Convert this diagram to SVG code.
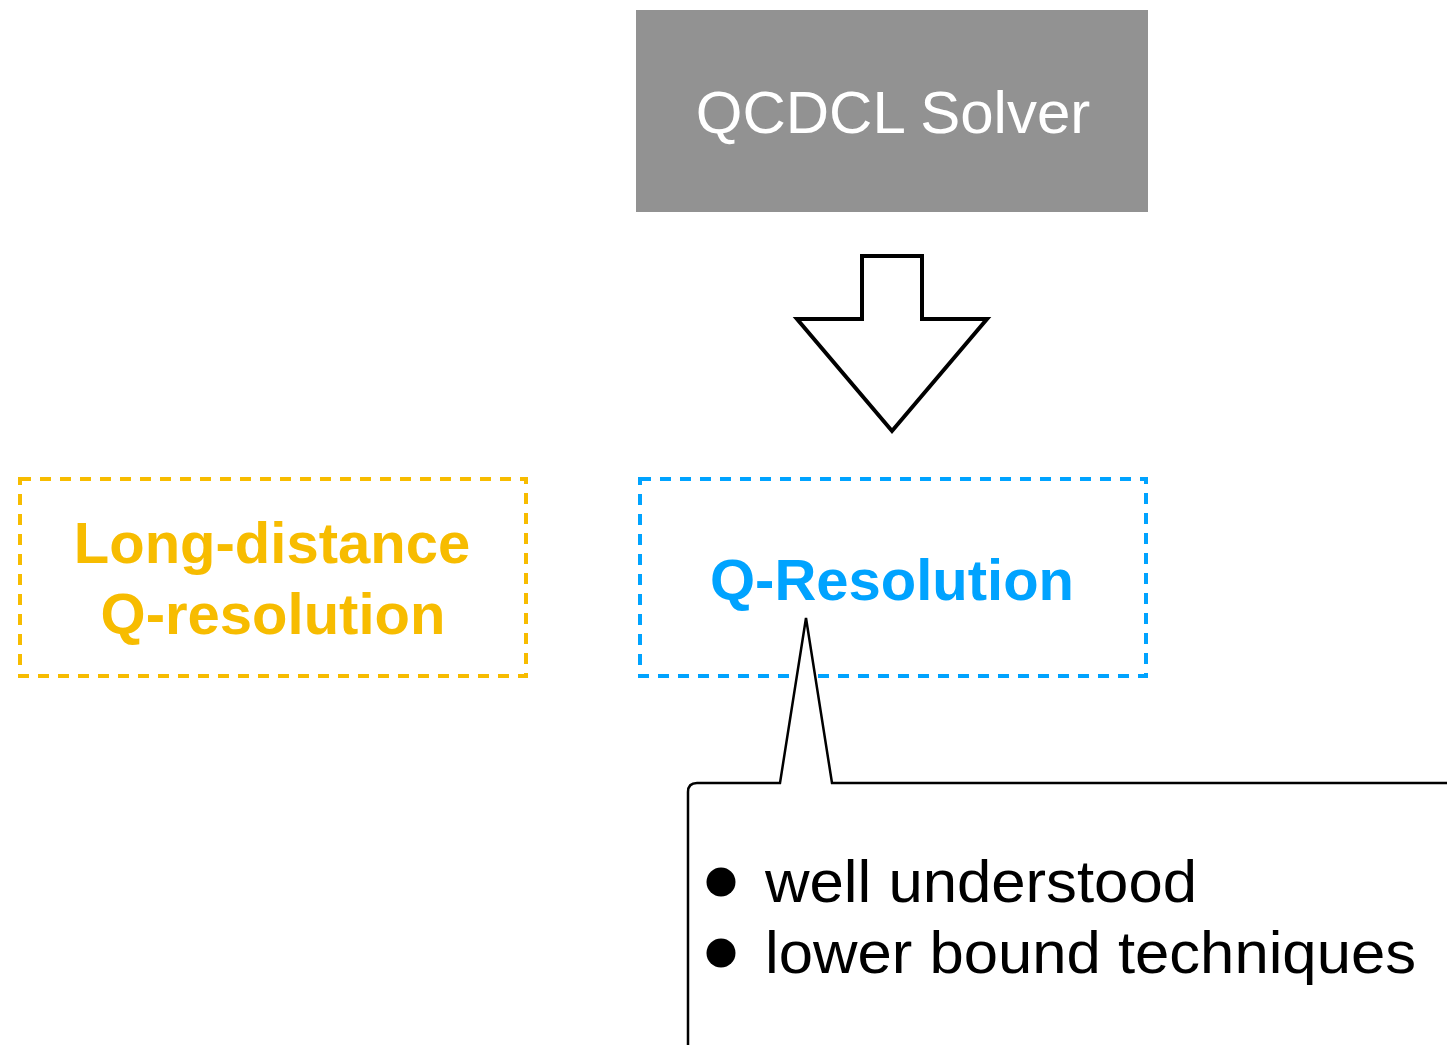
<svg xmlns="http://www.w3.org/2000/svg" width="1447" height="1045" viewBox="0 0 1447 1045">
<style>
text{font-family:"Liberation Sans",Arial,sans-serif}
.dash{fill:none;stroke-width:4;stroke-dasharray:11 9}
.big{font-size:58px;font-weight:bold;text-anchor:middle}
.item{font-size:60px;fill:#000}
</style>
<rect width="1447" height="1045" fill="#fff"/>
<g id="solver">
<rect x="636" y="10" width="512" height="202" fill="#929292"/>
<text x="893" y="133" font-size="60" fill="#fff" text-anchor="middle">QCDCL Solver</text>
</g>
<g id="connectors">
<path d="M862 256 H922 V319 H987 L892 431 L797 319 H862 Z" fill="#fff" stroke="#000" stroke-width="4" stroke-linejoin="miter"/>
</g>
<g id="long-distance">
<rect x="20" y="479" width="506" height="197" class="dash" stroke="#F7BC00"/>
<text x="272" y="563" class="big" fill="#F7BC00">Long-distance</text>
<text x="273" y="634" class="big" fill="#F7BC00">Q-resolution</text>
</g>
<g id="q-resolution">
<rect x="640" y="479" width="506" height="197" class="dash" stroke="#00A3FF"/>
<text x="892" y="600" class="big" fill="#00A3FF">Q-Resolution</text>
</g>
<g id="callout">
<path d="M1460 783 H832 L806 618 L780 783 H697 Q688 783 688 792 V1060" fill="#fff" stroke="#000" stroke-width="2.5"/>
<circle cx="721" cy="882" r="14.5" fill="#000"/>
<circle cx="721" cy="953" r="14.5" fill="#000"/>
<text x="765" y="902" class="item" textLength="432" lengthAdjust="spacingAndGlyphs">well understood</text>
<text x="765" y="973" class="item" textLength="651" lengthAdjust="spacingAndGlyphs">lower bound techniques</text>
</g>
</svg>
